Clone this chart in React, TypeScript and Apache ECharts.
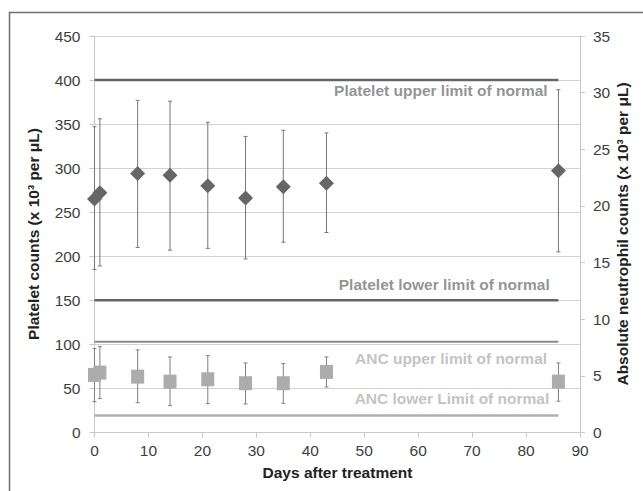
import React, { useEffect, useRef } from "react";
import * as echarts from "echarts";

// Days of measurement
const days = [0, 1, 8, 14, 21, 28, 35, 43, 86];
// Platelet counts (x10^3 per µL): mean, lower and upper error
const plateletMean = [265, 272, 294, 292, 280, 266, 279, 283, 297];
const plateletLow = [185, 189, 210, 207, 209, 197, 216, 227, 205];
const plateletHigh = [347, 356, 377, 376, 352, 336, 343, 340, 389];
// Absolute neutrophil counts (x10^3 per µL)
const ancMean = [5.08, 5.29, 4.93, 4.49, 4.7, 4.35, 4.35, 5.35, 4.49];
const ancLow = [2.72, 2.99, 2.63, 2.37, 2.55, 2.52, 2.58, 4.02, 2.76];
const ancHigh = [7.41, 7.58, 7.29, 6.67, 6.79, 6.14, 6.08, 6.67, 6.14];
// Reference limits
const limitStart = 0;
const limitEnd = 86;
const plateletUpper = 400;
const plateletLower = 150;
const ancUpper = 8;
const ancLower = 1.5;
// Annotation labels (x day, left-axis value, text)
const annotations: [number, number, string, string][] = [
  [84.0, 388, "Platelet upper limit of normal", "#777777"],
  [84.4, 167.5, "Platelet lower limit of normal", "#777777"],
  [83.9, 84.5, "ANC upper limit of normal", "#b3b3b3"],
  [84.3, 39, "ANC lower Limit of normal", "#b3b3b3"],
];

const FONT = "'Liberation Sans', Arial, sans-serif";

function errorRender(color: string) {
  return (params: any, api: any) => {
    const x = api.value(0);
    const lo = api.coord([x, api.value(1)]);
    const hi = api.coord([x, api.value(2)]);
    const w = 2;
    const st = { stroke: color, lineWidth: 1 };
    return {
      type: "group",
      children: [
        { type: "line", shape: { x1: hi[0], y1: hi[1], x2: lo[0], y2: lo[1] }, style: st },
        { type: "line", shape: { x1: hi[0] - w, y1: hi[1], x2: hi[0] + w, y2: hi[1] }, style: st },
        { type: "line", shape: { x1: lo[0] - w, y1: lo[1], x2: lo[0] + w, y2: lo[1] }, style: st },
      ],
    };
  };
}

export default function App() {
  const ref = useRef<HTMLDivElement>(null);
  useEffect(() => {
    if (!ref.current) return;
    const chart = echarts.init(ref.current, undefined, { renderer: "svg" });
    const labelStyle = { fontSize: 15.5, color: "#404040", fontFamily: FONT };
    const option: any = {
      animation: false,
      backgroundColor: "#ffffff",
      grid: { left: 94.5, right: 63, top: 36, bottom: 58.5, containLabel: false },
      xAxis: {
        type: "value",
        min: 0,
        max: 90,
        interval: 10,
        axisLine: { show: true, lineStyle: { color: "#c8c8c8", width: 1 } },
        axisTick: { show: true, length: 5, lineStyle: { color: "#c8c8c8" } },
        splitLine: { show: false },
        axisLabel: { ...labelStyle, margin: 10 },
      },
      yAxis: [
        {
          type: "value",
          min: 0,
          max: 450,
          interval: 50,
          axisLine: { show: true, lineStyle: { color: "#c8c8c8", width: 1 } },
          axisTick: { show: true, length: 5, lineStyle: { color: "#c8c8c8" } },
          splitLine: { show: true, lineStyle: { color: "#d3d3d3", width: 1 } },
          axisLabel: { ...labelStyle, margin: 14 },
        },
        {
          type: "value",
          position: "right",
          min: 0,
          max: 35,
          interval: 5,
          axisLine: { show: true, lineStyle: { color: "#c8c8c8", width: 1 } },
          axisTick: { show: true, length: 5, lineStyle: { color: "#c8c8c8" } },
          splitLine: { show: false },
          axisLabel: { ...labelStyle, margin: 13 },
        },
      ],
      graphic: [
        {
          type: "rect",
          shape: { x: 9.5, y: 12.5, width: 800, height: 700 },
          style: { fill: "none", stroke: "#707070", lineWidth: 1.5 },
          silent: true,
        },
        {
          type: "text",
          x: 337.5,
          y: 472,
          style: {
            text: "Days after treatment",
            font: `bold 15.5px ${FONT}`,
            fill: "#222222",
            textAlign: "center",
            textVerticalAlign: "middle",
          },
        },
        {
          type: "text",
          x: 33,
          y: 234,
          rotation: Math.PI / 2,
          style: {
            text: "Platelet counts (x 10³ per μL)",
            font: `bold 15.5px ${FONT}`,
            fill: "#222222",
            textAlign: "center",
            textVerticalAlign: "middle",
          },
        },
        {
          type: "text",
          x: 622,
          y: 234,
          rotation: Math.PI / 2,
          style: {
            text: "Absolute neutrophil counts (x 10³ per μL)",
            font: `bold 15.5px ${FONT}`,
            fill: "#222222",
            textAlign: "center",
            textVerticalAlign: "middle",
          },
        },
      ],
      series: [
        {
          type: "line",
          yAxisIndex: 0,
          symbol: "none",
          data: [[limitStart, plateletUpper], [limitEnd, plateletUpper]],
          lineStyle: { color: "#666666", width: 2.5 },
          z: 3,
        },
        {
          type: "line",
          yAxisIndex: 0,
          symbol: "none",
          data: [[limitStart, plateletLower], [limitEnd, plateletLower]],
          lineStyle: { color: "#666666", width: 2.5 },
          z: 3,
        },
        {
          type: "line",
          yAxisIndex: 1,
          symbol: "none",
          data: [[limitStart, ancUpper], [limitEnd, ancUpper]],
          lineStyle: { color: "#8a8a8a", width: 2 },
          z: 3,
        },
        {
          type: "line",
          yAxisIndex: 1,
          symbol: "none",
          data: [[limitStart, ancLower], [limitEnd, ancLower]],
          lineStyle: { color: "#b0b0b0", width: 2.5 },
          z: 3,
        },
        {
          type: "custom",
          yAxisIndex: 0,
          renderItem: errorRender("#777777"),
          encode: { x: 0, y: [1, 2] },
          data: days.map((d, i) => [d, plateletLow[i], plateletHigh[i]]),
          z: 4,
        },
        {
          type: "custom",
          yAxisIndex: 1,
          renderItem: errorRender("#808080"),
          encode: { x: 0, y: [1, 2] },
          data: days.map((d, i) => [d, ancLow[i], ancHigh[i]]),
          z: 4,
        },
        {
          type: "scatter",
          yAxisIndex: 0,
          symbol: "diamond",
          symbolSize: [15, 15],
          itemStyle: { color: "#666666", opacity: 1 },
          data: days.map((d, i) => [d, plateletMean[i]]),
          z: 5,
        },
        {
          type: "scatter",
          yAxisIndex: 1,
          symbol: "rect",
          symbolSize: [13, 14],
          itemStyle: { color: "#acacac", opacity: 1 },
          data: days.map((d, i) => [d, ancMean[i]]),
          z: 5,
        },
        {
          type: "scatter",
          yAxisIndex: 0,
          symbolSize: 0,
          silent: true,
          data: annotations.map((a) => ({
            value: [a[0], a[1]],
            label: {
              show: true,
              position: "inside",
              formatter: a[2],
              align: "right",
              verticalAlign: "middle",
              fontSize: 15.5,
              fontWeight: "bold",
              fontFamily: FONT,
              color: a[3],
            },
          })),
          z: 6,
        },
      ],
    };
    chart.setOption(option);
    return () => chart.dispose();
  }, []);
  return (
    <div
      ref={ref}
      style={{ position: "fixed", left: 0, top: 0, width: 643, height: 491 }}
    />
  );
}
